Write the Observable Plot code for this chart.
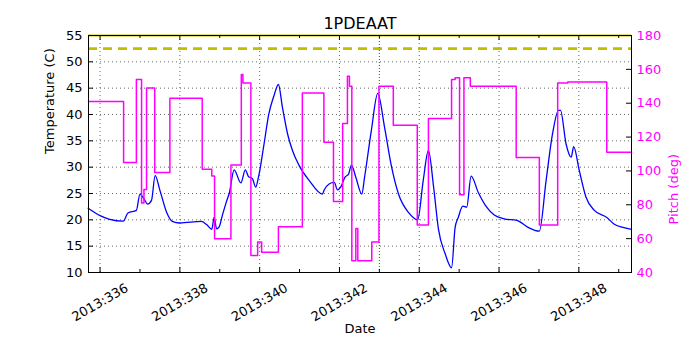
<!DOCTYPE html>
<html><head><meta charset="utf-8">
<script src="https://cdn.jsdelivr.net/npm/d3@7"></script>
<script src="https://cdn.jsdelivr.net/npm/@observablehq/plot@0.6"></script>
<style>
body{margin:0;background:#fff;}
#chart svg{font-family:"DejaVu Sans",sans-serif;}
</style>
</head><body><div id="chart"></div>
<script>
// ---- data (day of year 2013, fractional) ----
const title = "1PDEAAT";
const tempDays = [335.70,336.00,336.24,336.58,336.70,336.91,337.00,337.10,337.19,337.29,337.38,337.50,337.67,337.81,338.00,338.54,338.67,338.80,338.86,338.92,338.98,339.07,339.17,339.24,339.36,339.53,339.64,339.72,339.82,339.90,339.97,340.11,340.23,340.36,340.47,340.57,340.70,340.82,340.99,341.24,341.57,341.62,341.74,341.87,341.95,342.03,342.14,342.23,342.30,342.41,342.56,342.63,342.80,342.96,343.13,343.30,343.48,343.73,343.96,344.10,344.23,344.36,344.48,344.65,344.81,344.90,344.98,345.09,345.19,345.30,345.48,345.69,345.88,346.13,346.45,346.72,347.01,347.18,347.34,347.49,347.54,347.68,347.81,347.87,348.01,348.18,348.39,348.71,348.88,349.13,349.32];
const tempValues = [22.2,20.8,20.1,19.75,21.3,21.8,24.9,24.0,23.0,23.7,28.4,25.6,21.4,19.7,19.4,19.7,19.1,18.2,20.5,18.3,18.6,21.0,23.5,25.1,29.5,27.0,29.5,28.2,27.8,26.2,28.1,34.4,40.1,43.6,45.7,41.4,36.3,33.2,30.3,27.5,24.9,25.7,26.8,27.1,25.7,26.2,28.1,28.7,30.4,28.1,24.9,28.1,37.0,44.0,37.6,30.3,24.9,21.4,20.0,27.5,33.2,26.2,18.3,13.55,10.9,18.6,20.5,22.6,22.4,28.3,25.2,22.4,20.9,20.2,19.9,18.6,17.85,27.5,36.3,40.8,40.8,34.4,31.9,33.9,29.4,24.3,21.8,20.4,19.2,18.5,18.2];
const pitchDays = [335.71,336.59,336.91,337.04,337.10,337.165,337.37,337.75,338.56,338.80,338.87,339.28,339.54,339.58,339.78,339.95,340.05,340.47,341.07,341.61,341.85,342.08,342.20,342.25,342.31,342.41,342.46,342.81,342.99,343.35,343.95,344.23,344.81,344.90,345.01,345.12,345.28,346.43,347.01,347.47,347.72,348.70,349.32];
const pitchValues = [141,105,154,81,89,149,99,143,101,97,60,103.5,157,152,50,58,52,67,146,117,82,128,156,150,47,66,47,58,150,127,68,131,154,155,86,155,150,108,68,152,152.5,111,111];
const xTickDays = [336,338,340,342,344,346,348];
const xMinorDays = [337,339,341,343,345,347,349];
const tempTicks = [10,15,20,25,30,35,40,45,50,55];
const pitchTicks = [40,60,80,100,120,140,160,180];
const limitTemp = 52.5;
const maxTemp = 55;
const eventDay = 343.0;
const xDomain = [335.71, 349.32];

// ---- layout ----
const W = 700, H = 350, mt = 35, mb = 78, ml = 88, mr = 69;
const innerW = W - ml - mr, innerH = H - mt - mb;
const tMin = 10, tMax = 55, pMin = 40, pMax = 180;
const p2t = p => tMin + (p - pMin) * (tMax - tMin) / (pMax - pMin);

const temp = tempDays.map((d, i) => ({d, v: tempValues[i]}));
const pitch = pitchDays.map((d, i) => ({d, v: pitchValues[i]}));

const chart = Plot.plot({
  width: W, height: H,
  marginTop: mt, marginBottom: mb, marginLeft: ml, marginRight: mr,
  x: {domain: xDomain, axis: null},
  y: {domain: [tMin, tMax], axis: null},
  style: {fontFamily: "DejaVu Sans, sans-serif", fontSize: "13px", color: "black", background: "white"},
  marks: [
    // grid
    Plot.ruleX(xTickDays, {x: d => d, stroke: "black", strokeWidth: 0.6, strokeDasharray: "1,3"}),
    Plot.ruleY(tempTicks, {y: d => d, stroke: "black", strokeWidth: 0.6, strokeDasharray: "1,3"}),
    // reference lines
    Plot.ruleY([limitTemp], {y: d => d, stroke: "#bfbf00", strokeWidth: 2.6, strokeDasharray: "9,6"}),
    Plot.ruleY([maxTemp], {y: d => d, stroke: "#bfbf00", strokeWidth: 2}),
    Plot.ruleX([eventDay], {x: d => d, stroke: "#008000", strokeWidth: 1, strokeDasharray: "1,2"}),
    // data
    Plot.line(temp, {x: "d", y: "v", curve: "monotone-x", stroke: "#0000ff", strokeWidth: 1.3}),
    Plot.line(pitch, {x: "d", y: d => p2t(d.v), curve: "step-after", stroke: "#ff00ff", strokeWidth: 1.5}),
    // frame & inward ticks
    Plot.frame({stroke: "black", strokeWidth: 1}),
    Plot.tickX(xTickDays, {x: d => d, insetTop: innerH - 5, stroke: "black"}),
    Plot.tickX(xTickDays, {x: d => d, insetBottom: innerH - 5, stroke: "black"}),
    Plot.tickX(xMinorDays, {x: d => d, insetTop: innerH - 3, stroke: "black"}),
    Plot.tickX(xMinorDays, {x: d => d, insetBottom: innerH - 3, stroke: "black"}),
    Plot.tickY(tempTicks, {y: d => d, insetRight: innerW - 5, stroke: "black"}),
    Plot.tickY(pitchTicks, {y: d => p2t(d), insetLeft: innerW - 5, stroke: "black"}),
    // tick labels
    Plot.text(tempTicks, {y: d => d, text: d => String(d), frameAnchor: "left", textAnchor: "end", dx: -6, fill: "black"}),
    Plot.text(pitchTicks, {y: d => p2t(d), text: d => String(d), frameAnchor: "right", textAnchor: "start", dx: 5, fill: "#ff00ff"}),
    Plot.text(xTickDays, {x: d => d, text: d => "2013:" + d, frameAnchor: "bottom", rotate: -30, textAnchor: "middle", lineAnchor: "middle", dy: 30, fill: "black"}),
    // axis labels & title
    Plot.text([title], {text: d => d, frameAnchor: "top", lineAnchor: "bottom", dy: -7, fontSize: 16, fill: "black"}),
    Plot.text(["Temperature (C)"], {text: d => d, frameAnchor: "left", rotate: -90, dx: -39, fontSize: 13, fill: "black"}),
    Plot.text(["Pitch (deg)"], {text: d => d, frameAnchor: "right", rotate: -90, dx: 42, fontSize: 13, fill: "#ff00ff"}),
    Plot.text(["Date"], {text: d => d, frameAnchor: "bottom", dy: 60, fontSize: 13, fill: "black"})
  ]
});
document.getElementById("chart").appendChild(chart);
</script>
</body></html>
